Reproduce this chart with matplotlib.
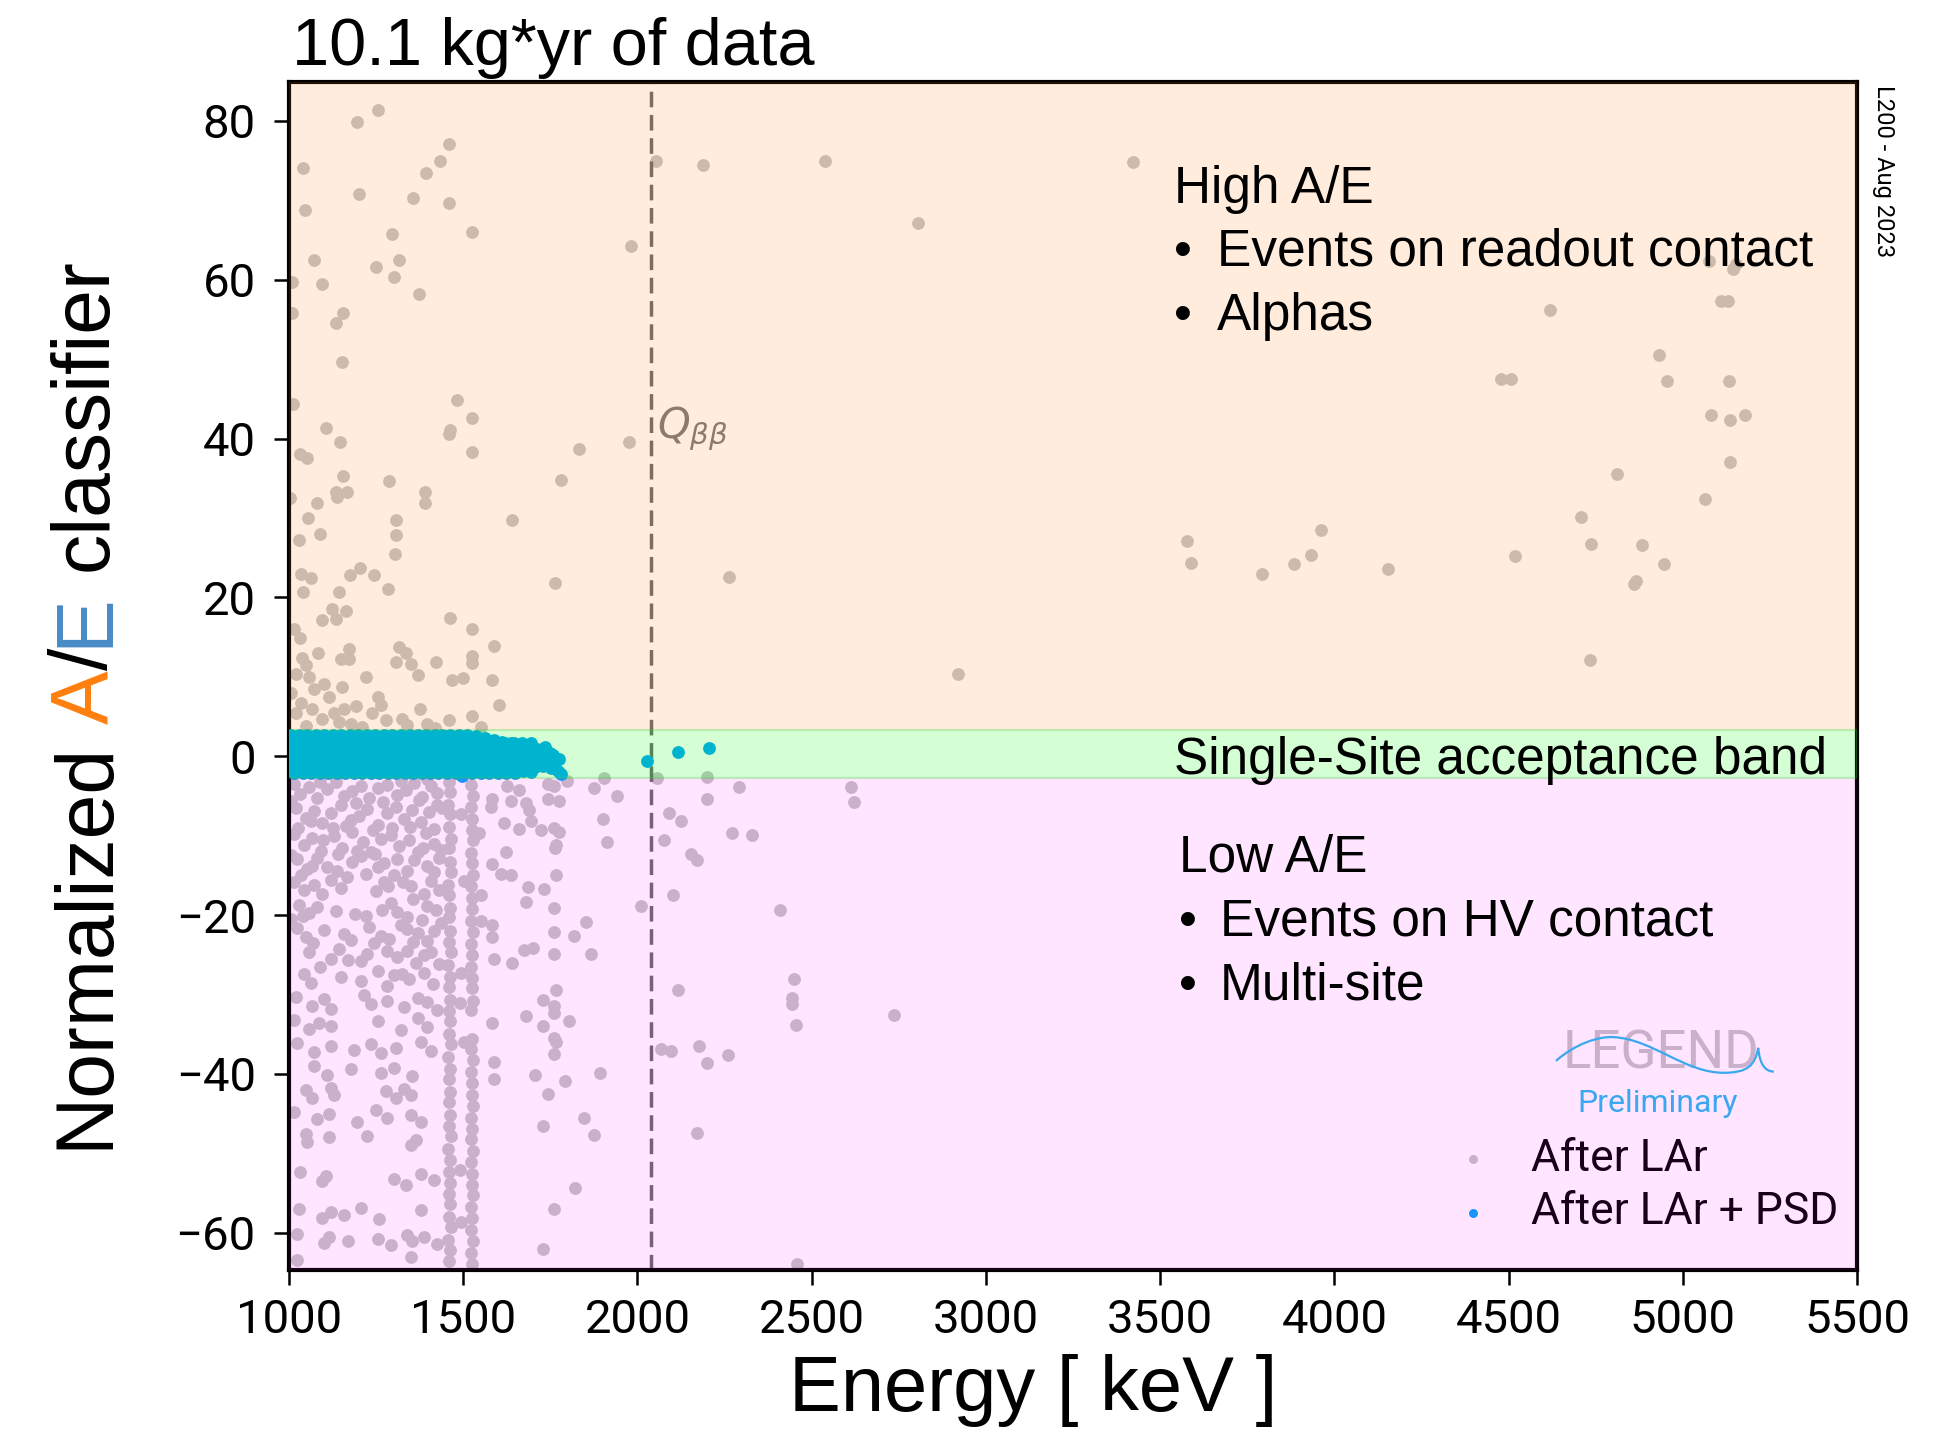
import numpy as np
import matplotlib
matplotlib.use("Agg")
import matplotlib.pyplot as plt
from matplotlib.path import Path
from matplotlib.patches import PathPatch

# ---------------- data (Energy [keV], normalized A/E) ----------------
lar_high = [
 (1975,39.6),(1831,38.7),(1780,34.8),(1640,29.8),(1762,21.8),(2264,22.6),(1982,64.3),(2053,75.0),(2187,74.4),
 (1525,66.0),(1458,77.1),(1432,74.9),(1394,73.4),(1355,70.3),(1458,69.7),(1254,81.4),(1194,79.9),(1041,74.1),
 (1045,68.8),(1202,70.8),(1296,65.7),(1071,62.5),(1317,62.5),(1249,61.6),(1301,60.3),(1096,59.5),(1010,59.7),
 (1372,58.2),(1010,55.8),(1156,55.8),(1135,54.5),(1151,49.6),(1012,44.4),(1483,44.8),(1525,42.6),(1461,41.1),
 (1458,40.6),(1105,41.3),(1147,39.6),(1525,38.3),(1031,38.1),(1053,37.5),(1156,35.3),(1287,34.6),(1136,33.3),
 (1166,33.3),(1139,32.7),(1390,33.3),(1390,31.9),(1079,31.9),(1054,30.0),(1308,29.8),(1003,32.5),(1088,28.0),
 (1308,27.8),(1029,27.2),(1304,25.5),(1205,23.7),(1034,23.0),(1063,22.4),(1174,22.8),(1244,22.8),(1041,20.7),
 (1144,20.7),(1283,21.0),(1122,18.6),(1165,18.3),(1096,17.1),(1136,17.3),(1461,17.4),(1525,16.0),(1014,16.0),
 (1031,14.9),(1589,13.9),(1316,13.8),(1172,13.5),(1083,13.0),(1148,12.3),(1172,12.3),(1308,11.9),(1335,13.0),
 (1351,11.6),(1423,11.9),(1525,12.6),(1525,11.8),(1038,12.4),(1048,11.5),(1369,10.2),(1469,9.6),(1500,9.8),
 (1584,9.6),(1220,10.0),(1019,10.4),(1057,10.0),(1101,9.1),(1153,8.7),(1072,8.5),(1115,7.4),(1254,7.4),
 (1602,6.5),(1035,6.7),(1067,6.0),(1191,6.3),(1263,6.5),(1129,5.5),(1239,5.5),(1376,6.0),(1158,5.9),
 (1525,5.1),(1459,4.6),(1325,4.7),(1019,5.4),(1096,4.7),(1144,4.3),(1177,4.0),(1277,4.6),(1397,4.0),
 (1050,3.8),(1210,3.7),(1340,3.9),(1420,3.6),(1550,3.7),(1005,8.0),
 (2539,75.0),(3421,74.8),(2804,67.1),(2921,10.3),(3576,27.1),(3589,24.3),(3793,23.0),(3885,24.2),(3932,25.4),
 (3962,28.5),(4153,23.6),(4518,25.2),(4479,47.5),(4507,47.5),(4620,56.2),(4708,30.1),(4733,12.1),(4738,26.7),
 (4810,35.5),(4859,21.7),(4866,22.1),(4882,26.6),(4932,50.5),(4947,24.2),(4954,47.3),(5064,32.4),(5082,43.0),
 (5136,42.3),(5179,43.0),(5133,47.2),(5136,37.0),(5110,57.3),(5130,57.3),(5075,62.4),(5145,61.4),(5152,62.0),
]

lar_low = [
 (1905,-2.8),(1942,-5.0),(1900,-7.9),(1913,-10.8),(2091,-7.1),(2126,-8.2),(2075,-10.5),(2055,-2.8),(2201,-2.6),
 (2201,-5.4),(2291,-3.9),(2613,-3.9),(2621,-5.8),(2270,-9.7),(2328,-9.9),(2154,-12.3),(2171,-13.1),(2103,-17.5),
 (2010,-18.8),(2409,-19.4),(2448,-28.1),(2444,-30.4),(2444,-31.2),(2456,-33.9),(2735,-32.6),(2117,-29.5),
 (2069,-36.9),(2095,-37.1),(2176,-36.5),(2201,-38.6),(2261,-37.6),(1893,-39.9),(2171,-47.5),(2457,-64.0),
 (1584,-5.4),(1579,-6.4),(1627,-3.7),(1637,-5.6),(1661,-4.2),(1680,-5.9),(1689,-6.8),(1742,-3.5),(1761,-3.7),
 (1742,-5.4),(1776,-5.6),(1797,-3.1),(1876,-4.0),(1618,-8.4),(1661,-9.2),(1694,-8.2),(1723,-9.3),(1761,-9.0),
 (1776,-9.5),(1766,-11.2),(1763,-11.6),(1622,-12.1),(1584,-13.6),(1608,-14.8),(1637,-14.9),(1766,-15.0),
 (1685,-16.5),(1733,-16.7),(1680,-18.4),(1761,-19.1),(1852,-20.9),(1819,-22.6),(1584,-21.2),(1584,-22.8),
 (1589,-25.5),(1640,-26.0),(1675,-24.4),(1699,-24.2),(1761,-22.1),(1761,-24.9),(1868,-24.9),(1766,-29.5),
 (1728,-30.7),(1761,-31.4),(1761,-32.3),(1681,-32.7),(1584,-33.6),(1728,-34.0),(1804,-33.4),(1761,-35.5),
 (1766,-36.0),(1761,-37.5),(1589,-38.5),(1589,-40.7),(1707,-40.1),(1792,-40.9),(1742,-42.5),(1847,-45.5),
 (1728,-46.6),(1876,-47.7),(1822,-54.4),(1761,-57.0),(1730,-62.0),
 (1493,-7.3),(1501,-15.7),(1493,-27.3),(1491,-31.1),(1503,-36.0),(1490,-52.1),(1494,-58.6),(1551,-20.8),
 (1546,-9.7),(1551,-17.5),
 (1014,-3.5),(1033,-4.8),(1057,-3.9),(1081,-5.2),(1110,-4.1),(1134,-3.3),(1158,-5.0),(1182,-4.4),(1206,-3.7),
 (1230,-5.3),(1254,-4.0),(1282,-3.6),(1311,-4.9),(1335,-4.2),(1359,-3.4),(1383,-5.1),(1407,-3.8),(1426,-4.6),
 (1019,-6.5),(1048,-7.8),(1072,-6.9),(1096,-8.4),(1120,-7.1),(1148,-6.2),(1177,-8.0),(1201,-7.5),(1225,-6.7),
 (1254,-8.6),(1282,-7.2),(1306,-6.4),(1330,-7.9),(1354,-6.8),(1378,-8.3),(1402,-7.0),(1426,-6.1),
 (1014,-9.8),(1043,-11.2),(1067,-10.3),(1091,-11.9),(1129,-10.0),(1153,-11.5),(1182,-9.6),(1211,-10.8),
 (1235,-12.0),(1263,-10.4),(1292,-9.9),(1316,-11.3),(1345,-10.6),(1369,-12.1),(1393,-9.7),(1416,-11.0),
 (1024,-13.0),(1053,-14.2),(1081,-12.8),(1110,-13.9),(1139,-14.5),(1182,-13.3),(1206,-12.6),(1254,-14.0),
 (1273,-13.5),(1311,-12.9),(1340,-14.4),(1359,-13.1),(1397,-13.8),(1416,-14.6),
 (1014,-15.8),(1043,-16.9),(1072,-16.2),(1096,-17.3),(1120,-15.6),(1148,-16.6),(1249,-17.0),(1273,-15.9),
 (1349,-16.4),(1388,-17.4),(1407,-15.7),(1431,-16.8),
 (1029,-18.7),(1057,-19.8),(1081,-19.0),(1220,-20.1),(1292,-18.5),(1311,-19.6),(1340,-20.3),(1397,-18.9),
 (1421,-19.4),
 (1024,-21.6),(1048,-22.8),(1100,-21.9),(1158,-22.4),(1177,-23.1),(1230,-21.5),(1263,-22.6),(1287,-23.0),
 (1340,-21.8),(1369,-22.3),(1397,-23.3),(1416,-22.0),
 (1057,-24.6),(1120,-25.5),(1144,-24.3),(1206,-25.8),(1225,-24.9),(1311,-25.3),(1340,-24.5),(1364,-26.0),
 (1388,-25.0),(1407,-24.7),
 (1043,-27.4),(1062,-28.6),(1148,-27.8),(1206,-28.3),(1254,-27.1),(1282,-28.9),(1301,-27.6),(1345,-28.1),
 (1388,-27.3),(1412,-28.7),
 (1019,-30.3),(1067,-31.4),(1100,-30.6),(1120,-31.8),(1215,-30.1),(1235,-31.2),(1282,-30.8),(1330,-31.6),
 (1369,-30.4),(1397,-31.0),(1426,-31.9),
 (1014,-33.2),(1057,-34.3),(1086,-33.6),(1120,-34.0),(1254,-33.4),(1321,-34.5),(1369,-33.0),(1397,-34.1),
 (1024,-36.1),(1072,-37.2),(1120,-36.5),(1187,-37.0),(1235,-36.3),(1263,-37.4),(1306,-36.8),(1378,-36.0),
 (1407,-37.1),
 (1072,-39.0),(1110,-40.1),(1177,-39.4),(1263,-39.9),(1301,-39.2),(1354,-40.3),
 (1048,-42.0),(1067,-43.0),(1120,-41.8),(1129,-42.7),(1278,-42.2),(1306,-43.1),(1330,-41.9),(1349,-42.6),
 (1014,-44.8),(1081,-45.7),(1115,-45.0),(1196,-46.0),(1249,-44.6),(1282,-45.5),(1349,-45.2),(1378,-46.1),
 (1048,-47.6),(1053,-48.6),(1115,-48.0),(1225,-47.8),(1349,-48.9),(1364,-48.3),
 (1033,-52.4),(1096,-53.5),(1105,-52.8),(1301,-53.2),(1335,-54.0),(1378,-52.6),(1416,-53.4),
 (1029,-57.0),(1096,-58.1),(1120,-57.4),(1158,-57.8),(1206,-56.9),(1258,-58.3),(1378,-57.2),
 (1024,-60.2),(1100,-61.3),(1115,-60.5),(1168,-61.0),(1254,-60.8),(1292,-61.6),(1340,-60.3),(1354,-61.1),
 (1388,-60.6),(1426,-61.4),(1024,-63.5),(1349,-63.0),
 (1005,-5.6),(1027,-9.0),(1062,-8.2),(1088,-3.2),(1125,-9.1),(1163,-8.8),(1193,-5.9),(1240,-9.3),(1270,-5.8),
 (1297,-9.0),(1322,-3.1),(1348,-8.9),(1372,-5.5),(1395,-2.9),(1415,-9.2),(1437,-11.8),(1440,-6.5),(1005,-12.5),
 (1035,-15.0),(1065,-13.8),(1098,-10.6),(1141,-12.3),(1167,-15.2),(1196,-11.9),(1222,-14.8),(1247,-12.3),
 (1284,-16.3),(1302,-14.9),(1326,-15.8),(1357,-18.0),(1385,-11.6),(1430,-12.8),(1005,-20.5),(1040,-20.1),
 (1068,-23.5),(1135,-19.5),(1190,-19.9),(1245,-23.5),(1268,-19.4),(1320,-21.2),(1355,-23.4),(1383,-20.6),
 (1435,-21.0),(1088,-26.6),(1168,-25.6),(1280,-24.5),(1325,-27.4),(1430,-26.2),
]

# K-40 (1461 keV) and K-42 (1525 keV) lines: dense columns of events
k40_line = [
 (1459,-3.3),(1463,-4.5),(1457,-6.2),(1462,-7.3),(1460,-8.9),(1465,-10.4),(1458,-11.6),(1461,-13.3),(1464,-14.6),
 (1457,-16.2),(1460,-17.5),(1463,-19.1),(1458,-20.3),(1462,-22.0),(1459,-23.4),(1464,-24.7),(1457,-26.3),
 (1461,-27.8),(1460,-29.0),(1463,-30.7),(1458,-32.1),(1462,-33.3),(1459,-35.0),(1465,-36.2),(1457,-37.9),
 (1461,-39.4),(1460,-40.6),(1463,-42.3),(1458,-43.5),(1462,-45.2),(1459,-46.6),(1464,-47.8),(1457,-49.5),
 (1461,-50.8),(1460,-52.3),(1463,-53.7),(1458,-55.1),(1462,-56.4),(1459,-58.0),(1464,-59.3),(1457,-60.9),
 (1461,-62.2),(1460,-63.6),
]
k42_line = [
 (1523,-3.6),(1527,-5.0),(1521,-6.4),(1526,-7.9),(1524,-9.3),(1528,-10.6),(1522,-12.2),(1525,-13.5),
 (1527,-15.0),(1521,-16.4),(1524,-17.8),(1526,-19.3),(1522,-20.8),(1528,-22.1),(1523,-23.6),(1526,-25.0),
 (1521,-26.5),(1525,-27.9),(1524,-29.2),(1527,-30.8),(1522,-32.0),(1526,-35.6),(1523,-36.9),(1527,-38.3),
 (1521,-39.8),(1525,-41.2),(1524,-42.6),(1527,-44.0),(1522,-45.5),(1526,-46.9),(1523,-48.2),(1528,-49.7),
 (1521,-51.1),(1525,-52.6),(1524,-54.0),(1527,-55.3),(1522,-56.8),(1526,-58.2),(1523,-59.6),(1527,-61.0),
 (1521,-62.5),(1525,-63.9),
]

# After LAr + PSD: events inside the single-site band
psd_events = (
 [(e, 2.7) for e in [1005,1030,1052,1078,1101,1127,1150,1176,1199,1224,1248,1273,1297,1321,1346,1370,1393,
                      1418,1440,1463,1488,1512]] +
 [(e, 1.7) for e in [1012,1037,1061,1086,1109,1134,1158,1183,1206,1231,1255,1280,1304,1328,1353,1377,1401,
                      1425,1449,1474,1498,1522,1547,1571,1596,1620,1645,1668,1694]] +
 [(e, 0.7) for e in [1004,1028,1054,1079,1102,1126,1151,1175,1199,1223,1247,1272,1296,1320,1345,1369,1394,
                      1418,1442,1466,1491,1515,1540,1563,1588,1612,1636,1660,1684,1710,1735]] +
 [(e, -0.3) for e in [1010,1035,1060,1084,1108,1133,1157,1181,1205,1229,1254,1278,1302,1327,1351,1375,1400,
                       1424,1448,1472,1497,1521,1545,1570,1594,1618,1642,1667,1690,1715,1738]] +
 [(e, -1.3) for e in [1003,1027,1052,1076,1100,1125,1149,1173,1197,1222,1246,1270,1294,1319,1343,1367,1391,
                       1416,1440,1464,1489,1513,1537,1561,1585,1610,1633,1657,1682]] +
 [(e, -2.1) for e in [1015,1040,1064,1089,1113,1137,1161,1186,1210,1235,1259,1283,1308,1332,1356,1381,1405,
                       1429,1453,1478,1502,1526,1551,1575,1600,1624,1648]] +
 [(1537,2.5),(1562,2.3),(1588,2.1),(1612,1.8),(1638,1.7),(1662,1.3),(1688,1.1),(1712,0.9),(1735,1.2),
  (1748,0.4),(1758,0.2),(1776,-0.4),(1762,-0.6),(1705,-1.4),(1730,-1.2),(1752,-1.5),(1771,-1.9),(1672,-1.8),
  (1695,-2.0),(1781,-2.3),(1496,-2.5),(2027,-0.6),(2116,0.55),(2205,1.0)]
)

Q_BB = 2039.0
band_low, band_high = -2.75, 3.35
xticks = [1000, 1500, 2000, 2500, 3000, 3500, 4000, 4500, 5000, 5500]
yticks = [-60, -40, -20, 0, 20, 40, 60, 80]
series_labels = ["After LAr", "After LAr + PSD"]

# ---------------- figure ----------------
W, H = 1952, 1432
plt.rcParams['font.family'] = ['Roboto', 'DejaVu Sans']
HELV = ['Liberation Sans', 'DejaVu Sans']
fig = plt.figure(figsize=(W / 100, H / 100), dpi=100)
ax = fig.add_axes([289 / W, 1 - 1270 / H, (1857 - 289) / W, (1270 - 82) / H])

GREY = '#c4c4c4'
BLUE = '#00a5fa'
MS = 85

lar_all = lar_high + lar_low + k40_line + k42_line
le, la = np.array(lar_all).T
pe, pa = np.array(psd_events).T
ax.scatter(le, la, s=MS, c=GREY, linewidths=0, zorder=2, label=series_labels[0])
ax.scatter(pe, pa, s=MS, c=BLUE, linewidths=0, zorder=3, label=series_labels[1])

ax.axvline(Q_BB, color='#6a6a6a', lw=2.5, ls=(0, (4.5, 2.2)), zorder=2.2)
ax.text(Q_BB + 18, 40.0, r'$Q_{\beta\beta}$', fontsize=30, color='#7a7a7a', va='baseline', ha='left',
        zorder=2.2)

# coloured overlays drawn on top of the points
ax.axhspan(band_high, 200, facecolor='#ff7f0e', alpha=0.14, lw=0, zorder=6)
ax.axhspan(-200, band_low, facecolor='#ff00ff', alpha=0.10, lw=0, zorder=6)
ax.axhspan(band_low, band_high, facecolor=(0, 1, 0, 0.17), edgecolor=(0.2, 0.8, 0.2, 0.25), lw=1.5, zorder=6)

ax.set_xlim(1000, 5500)
ax.set_ylim(-64.7, 84.9)
ax.set_xticks(xticks)
ax.set_yticks(yticks)
ax.tick_params(axis='both', direction='out', length=11, width=1.8, labelsize=34, color='black')
ax.tick_params(axis='y', pad=13)
ax.tick_params(axis='x', pad=9)
for sp in ax.spines.values():
    sp.set_linewidth(3.0)

leg = ax.legend(loc='center left', bbox_to_anchor=(0.741, 0.071), frameon=False, fontsize=32,
                handlelength=1.0, handletextpad=0.8, labelspacing=0.25, borderaxespad=0, borderpad=0,
                markerscale=0.7, scatterpoints=1)
leg.set_zorder(5)

# LEGEND logo
ax.text(0.875, 0.170, 'LEGEND', transform=ax.transAxes, fontsize=38, color='#c4c4c4', ha='center',
        va='baseline', zorder=5)
verts = [(0.808, 0.176), (0.82, 0.19), (0.835, 0.197), (0.845, 0.196),
         (0.87, 0.194), (0.89, 0.166), (0.915, 0.166),
         (0.93, 0.166), (0.935, 0.172), (0.937, 0.187),
         (0.938, 0.172), (0.942, 0.167), (0.947, 0.167)]
codes = [Path.MOVETO] + [Path.CURVE4] * 12
ax.add_patch(PathPatch(Path(verts, codes), transform=ax.transAxes, fill=False, edgecolor='#3aa8f0',
                       lw=1.6, zorder=7))
ax.text(0.873, 0.133, 'Preliminary', transform=ax.transAxes, fontsize=23,
        color='#3aa8f0', ha='center', va='baseline', zorder=7)

# ---------------- texts ----------------
def ftext(xp, yp, s, **kw):
    return fig.text(xp / W, 1 - yp / H, s, **kw)

ftext(292, 65, '10.1 kg*yr of data', fontsize=48, family=HELV, va='baseline', ha='left')
ftext(1033, 1411, 'Energy [ keV ]', fontsize=56, family=HELV, va='baseline', ha='center')
ftext(1883, 85, 'L200 - Aug 2023', fontsize=17, rotation=-90, ha='center', va='top')

ann_fs = 37
ftext(1174, 203, 'High A/E', fontsize=ann_fs, family=HELV, va='baseline')
ftext(1174, 266, '\u2022', fontsize=ann_fs, family=HELV, va='baseline')
ftext(1217, 266, 'Events on readout contact', fontsize=ann_fs, family=HELV, va='baseline')
ftext(1174, 330, '\u2022', fontsize=ann_fs, family=HELV, va='baseline')
ftext(1217, 330, 'Alphas', fontsize=ann_fs, family=HELV, va='baseline')
ftext(1174, 774, 'Single-Site acceptance band', fontsize=ann_fs, family=HELV, va='baseline')
ftext(1179, 871, 'Low A/E', fontsize=ann_fs, family=HELV, va='baseline')
ftext(1179, 936, '\u2022', fontsize=ann_fs, family=HELV, va='baseline')
ftext(1220, 936, 'Events on HV contact', fontsize=ann_fs, family=HELV, va='baseline')
ftext(1179, 1000, '\u2022', fontsize=ann_fs, family=HELV, va='baseline')
ftext(1220, 1000, 'Multi-site', fontsize=ann_fs, family=HELV, va='baseline')

# multi-coloured y label
ylab_full = 'Normalized A/E classifier'
ylab_parts = [('Normalized', 'black'), ('A', '#ff7f0e'), ('/', 'black'), ('E', '#4a8bc6'),
              ('classifier', 'black')]
ylab_fs = 58
fig.canvas.draw()
rend = fig.canvas.get_renderer()

def text_width(s):
    t = fig.text(0, 0, s, fontsize=ylab_fs, family=HELV)
    w = t.get_window_extent(rend).width
    t.remove()
    return w

total = text_width(ylab_full)
base_x = 107
center_y = H - 703.5
start_y = center_y - total / 2
pos = 0
for piece, col in ylab_parts:
    i0 = ylab_full.index(piece, pos)
    i1 = i0 + len(piece)
    off = text_width(ylab_full[:i1]) - text_width(piece)
    fig.text(base_x / W, (start_y + off) / H, piece, fontsize=ylab_fs, family=HELV, color=col,
             rotation=90, rotation_mode='anchor', ha='left', va='baseline')
    pos = i1

fig.savefig('out.png', dpi=100)
